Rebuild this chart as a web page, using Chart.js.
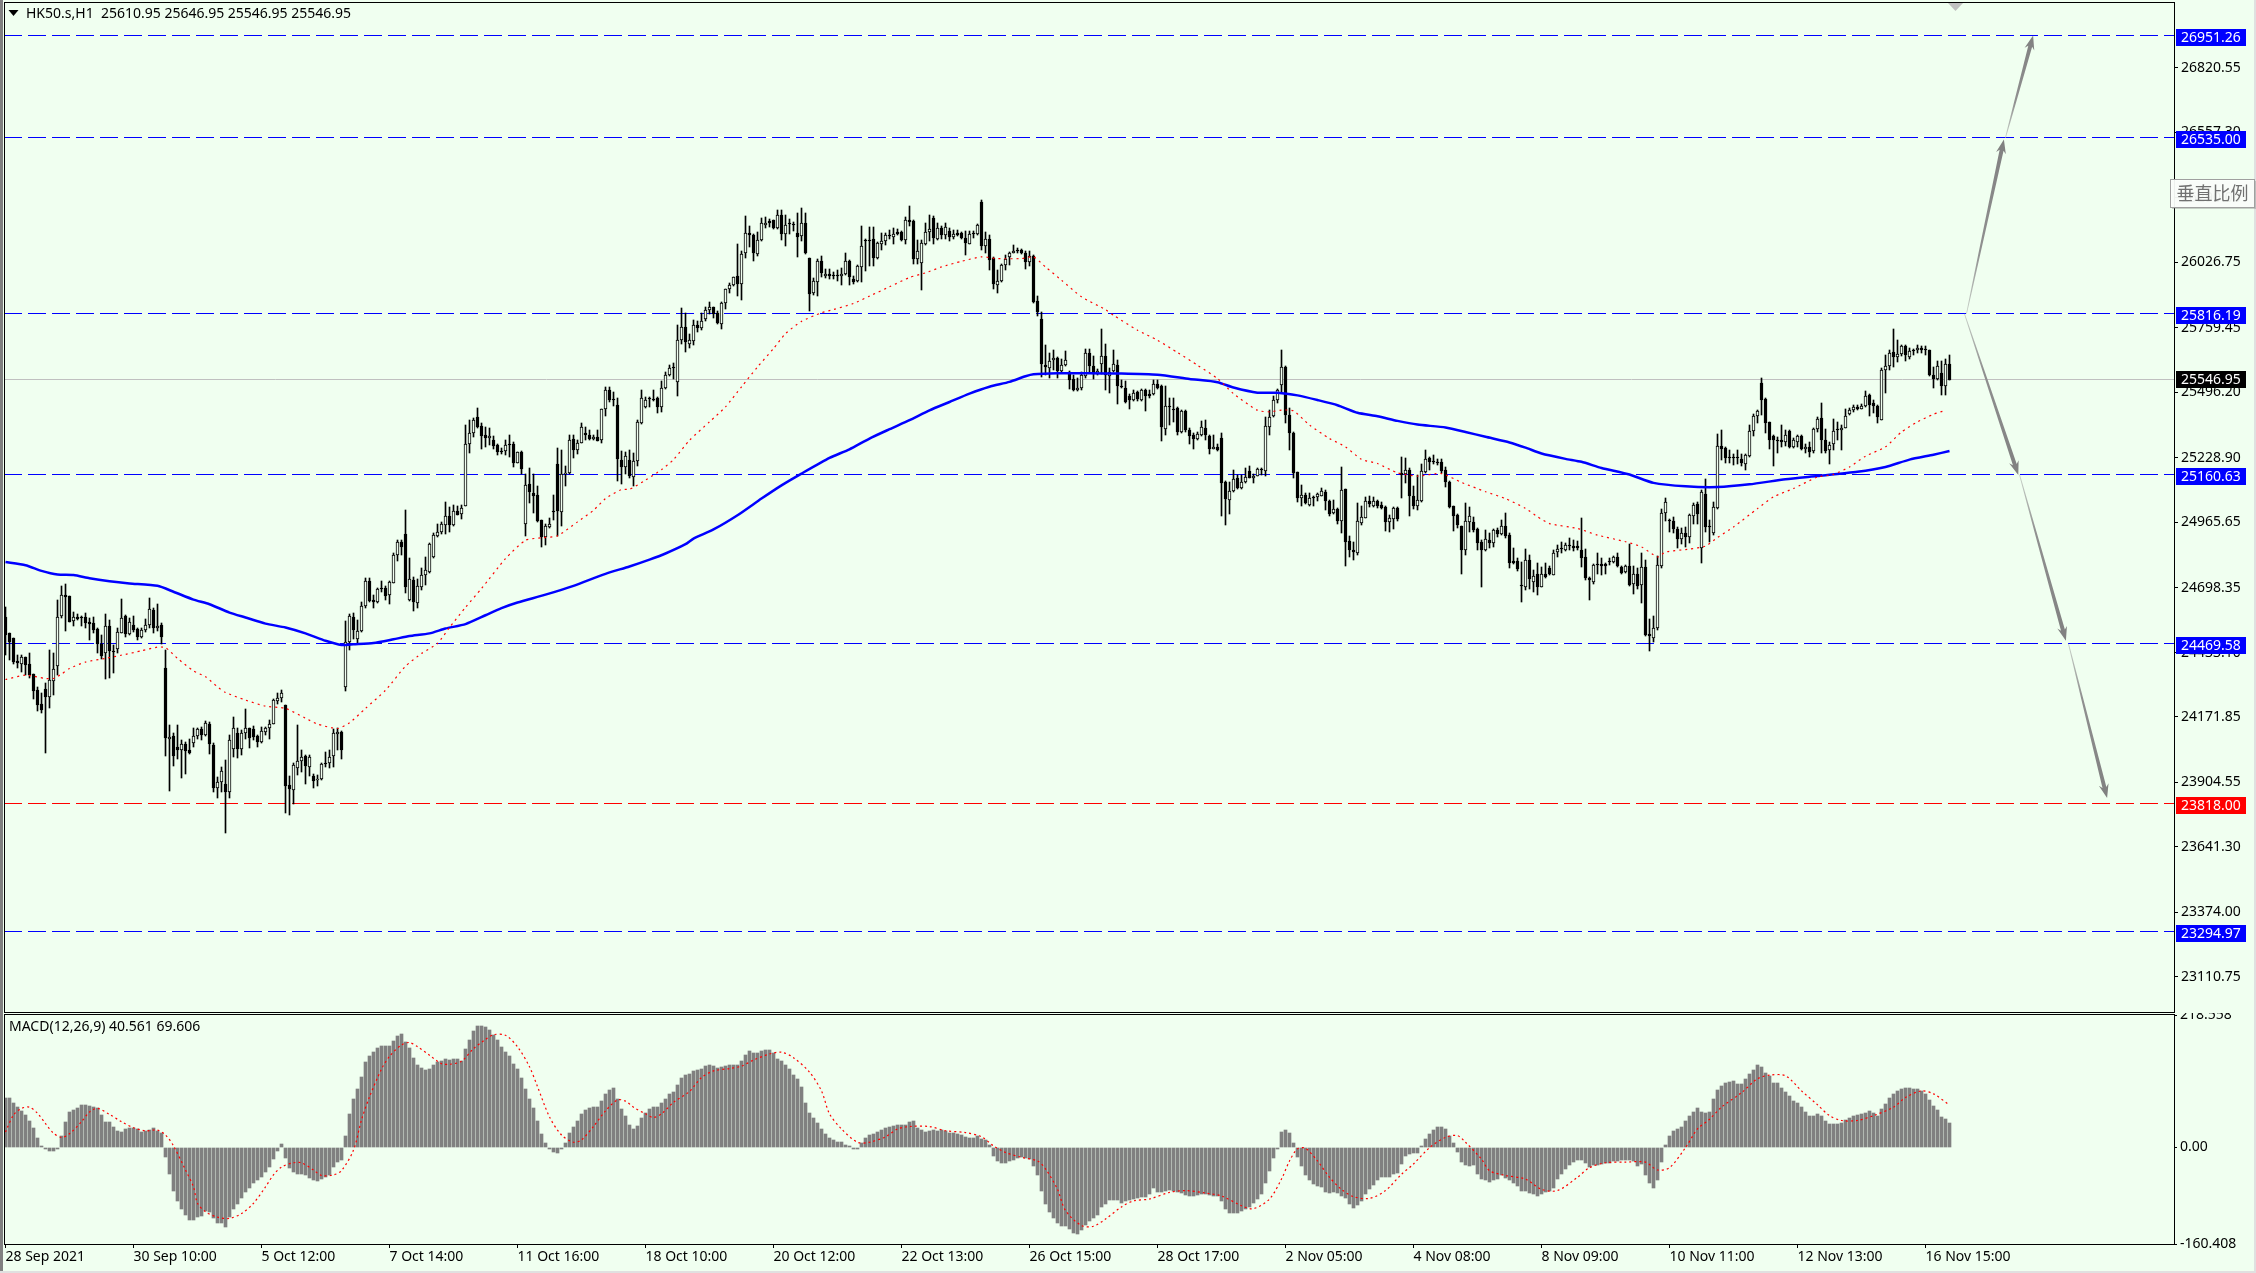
<!DOCTYPE html>
<html>
<head>
<meta charset="utf-8">
<title>HK50.s,H1</title>
<script src="https://cdn.jsdelivr.net/npm/chart.js@4/dist/chart.umd.min.js"></script>
<style>
html, body { margin: 0; padding: 0; width: 2256px; height: 1273px; overflow: hidden; background: #F0FFF0; }
canvas { position: absolute; left: 0; display: block; }
#priceChart { top: 0; }
#macdChart { top: 1013px; }
</style>
</head>
<body>
<canvas id="priceChart" width="2256" height="1013"></canvas>
<canvas id="macdChart" width="2256" height="260"></canvas>
<script>
const opens = [
24580,24512,24494,24399,24389,24414,24386,24346,24280,24222,
24284,24253,24318,24381,24582,24669,24664,24562,24577,24577,
24577,24557,24555,24531,24467,24430,24544,24440,24450,24514,
24582,24508,24548,24529,24498,24525,24548,24607,24532,24546,
24369,24083,24093,24049,24038,24060,24036,24066,24094,24120,
24099,24144,24056,23883,23906,23896,23866,24040,24104,24042,
24104,24124,24120,24093,24070,24108,24124,24144,24238,24249,
24219,23893,23875,23961,23992,24011,23968,23930,23913,23917,
23984,23985,24011,24100,24108,24294,24478,24577,24489,24522,
24624,24724,24650,24641,24699,24699,24668,24718,24831,24883,
24917,24648,24729,24637,24702,24752,24763,24822,24908,24925,
24953,24990,24953,25013,25001,25033,25286,25331,25395,25357,
25320,25310,25303,25280,25258,25256,25286,25286,25208,25254,
24960,25123,25086,25078,24974,24906,24945,25013,25205,25008,
25161,25168,25304,25259,25290,25331,25323,25305,25314,25301,
25429,25504,25466,25443,25221,25191,25218,25150,25216,25371,
25436,25468,25470,25471,25436,25514,25568,25596,25539,25708,
25760,25694,25705,25769,25756,25796,25833,25845,25821,25776,
25858,25917,25932,25969,25939,26062,26147,26139,26059,26115,
26179,26194,26198,26164,26217,26143,26182,26179,26147,26134,
26188,26045,25900,25946,26030,25970,25980,25972,25973,25970,
25977,26030,25957,25949,26007,26114,26115,26119,26043,26100,
26113,26134,26130,26149,26151,26116,26200,26194,26040,26024,
26102,26151,26207,26120,26166,26136,26154,26130,26146,26146,
26127,26102,26144,26140,26270,26093,26123,26045,25935,25950,
26014,26048,26064,26078,26075,26062,26028,26051,25867,25796,
25609,25595,25629,25637,25583,25606,25579,25548,25503,25512,
25562,25656,25603,25569,25610,25643,25562,25582,25609,25522,
25515,25480,25466,25496,25463,25504,25488,25488,25531,25523,
25346,25437,25425,25431,25334,25418,25341,25320,25305,25323,
25349,25319,25265,25273,25311,25129,25055,25093,25148,25106,
25130,25173,25146,25154,25184,25175,25355,25398,25466,25526,
25598,25405,25328,25170,25065,25075,25035,25069,25069,25073,
25087,25054,25004,25020,24971,25100,24888,24852,24841,24963,
24984,25054,25032,25054,25034,25027,24965,24979,25023,25167,
25162,25178,25072,25032,25054,25170,25227,25214,25213,25211,
25177,25129,25031,24994,24950,24852,24967,24966,24937,24886,
24852,24892,24879,24933,24917,24950,24913,24807,24808,24705,
24702,24811,24722,24754,24702,24756,24780,24752,24845,24856,
24852,24870,24868,24867,24852,24823,24736,24722,24792,24794,
24797,24806,24804,24822,24784,24763,24788,24712,24754,24709,
24781,24508,24494,24532,24788,25004,24970,24970,24937,24899,
24920,24905,24992,25039,24862,25082,24950,24922,25025,25278,
25270,25230,25228,25228,25225,25202,25237,25339,25399,25535,
25470,25373,25316,25300,25300,25294,25336,25273,25294,25316,
25263,25273,25255,25346,25392,25300,25259,25283,25341,25341,
25351,25409,25422,25437,25429,25439,25483,25453,25441,25384,
25588,25603,25660,25640,25652,25685,25640,25667,25667,25677,
25671,25667,25568,25549,25576,25521,25610.95];

const highs = [
24618,24512,24494,24423,24423,24416,24434,24348,24294,24267,
24308,24444,24430,24648,24705,24712,24664,24600,24593,24582,
24596,24573,24577,24536,24505,24593,24566,24464,24532,24654,
24589,24573,24582,24536,24536,24570,24658,24614,24631,24555,
24446,24140,24104,24138,24076,24070,24083,24128,24128,24131,
24154,24151,24063,23927,23965,23995,24097,24172,24124,24117,
24202,24128,24134,24097,24131,24131,24158,24246,24270,24280,
24219,23930,23984,24138,24036,24015,24015,23940,23934,23985,
24029,24036,24120,24128,24114,24562,24593,24596,24566,24641,
24740,24740,24668,24698,24725,24705,24725,24841,24892,24892,
25014,24818,24743,24732,24777,24822,24879,24920,24960,24967,
25050,25028,25035,25031,25035,25361,25382,25392,25433,25372,
25352,25348,25316,25284,25270,25300,25320,25293,25252,25256,
25161,25188,25161,25112,24974,24957,24984,25076,25270,25259,
25194,25323,25323,25300,25372,25352,25341,25323,25341,25429,
25518,25518,25497,25474,25255,25252,25259,25246,25382,25504,
25477,25477,25504,25477,25541,25579,25606,25616,25769,25840,
25821,25735,25790,25787,25820,25844,25864,25845,25828,25862,
25919,25943,25968,26100,26072,26214,26173,26143,26150,26208,
26211,26202,26200,26238,26241,26218,26202,26189,26229,26249,
26229,26045,25960,26038,26051,25998,26000,25987,25994,26004,
26062,26034,25969,26014,26173,26123,26170,26170,26109,26146,
26146,26157,26164,26161,26154,26211,26255,26198,26116,26116,
26188,26218,26215,26187,26173,26187,26164,26157,26157,26150,
26154,26154,26154,26184,26282,26150,26136,26048,25996,26018,
26055,26068,26096,26085,26079,26071,26071,26055,25888,25824,
25688,25654,25667,25640,25633,25663,25583,25565,25552,25579,
25674,25674,25644,25592,25752,25694,25596,25667,25629,25545,
25541,25490,25504,25500,25508,25508,25504,25545,25545,25524,
25520,25474,25474,25436,25422,25422,25348,25331,25334,25379,
25382,25320,25320,25286,25331,25134,25130,25178,25157,25160,
25188,25194,25161,25187,25188,25395,25423,25480,25511,25668,
25602,25430,25334,25171,25117,25085,25083,25072,25083,25107,
25096,25056,25058,25022,25190,25103,24909,24886,25045,25031,
25069,25072,25069,25056,25049,25031,24994,25026,25028,25232,
25228,25185,25113,25158,25205,25260,25232,25239,25222,25222,
25192,25133,25031,24998,24951,25045,25028,24988,24940,24892,
24933,24920,24936,24944,24974,25005,24920,24860,24818,24804,
24858,24831,24770,24800,24784,24800,24786,24852,24872,24886,
24882,24903,24892,24890,24981,24858,24743,24797,24841,24818,
24800,24818,24827,24838,24788,24790,24876,24786,24777,24838,
24811,24569,24582,24827,25018,25064,24977,24985,24947,24940,
24947,25001,25042,25049,25096,25143,24973,25048,25327,25341,
25273,25259,25245,25259,25243,25243,25361,25409,25425,25555,
25474,25375,25320,25313,25364,25341,25341,25309,25323,25320,
25286,25293,25350,25395,25453,25345,25293,25388,25375,25361,
25429,25432,25443,25443,25447,25500,25490,25463,25445,25595,
25647,25667,25755,25711,25690,25690,25677,25674,25690,25683,
25683,25670,25599,25622,25622,25633,25646.95];

const lows = [
24423,24403,24389,24369,24355,24342,24328,24246,24196,24188,
24025,24208,24260,24342,24573,24522,24559,24541,24566,24541,
24536,24487,24512,24433,24406,24324,24331,24351,24433,24512,
24498,24505,24518,24487,24495,24518,24532,24512,24521,24468,
24012,23870,23970,23998,23923,23938,24022,24049,24083,24079,
24093,24022,23866,23841,23866,23698,23841,24008,24004,24015,
24083,24045,24076,24049,24066,24097,24083,24142,24223,24233,
23780,23770,23818,23934,23947,23897,23930,23882,23889,23913,
23965,23961,23965,24038,23999,24278,24446,24491,24471,24518,
24616,24641,24616,24637,24682,24648,24631,24716,24808,24831,
24678,24645,24604,24616,24691,24709,24759,24818,24906,24919,
24919,24926,24949,24994,24978,25031,25248,25314,25348,25263,
25273,25280,25266,25239,25243,25239,25232,25191,25208,25164,
24908,25042,25004,24967,24865,24872,24942,24974,24910,24949,
25112,25164,25228,25243,25289,25303,25300,25300,25297,25289,
25398,25456,25439,25134,25120,25161,25144,25112,25194,25368,
25433,25436,25460,25412,25416,25508,25562,25548,25480,25694,
25660,25678,25688,25742,25749,25787,25814,25800,25776,25753,
25837,25901,25930,25888,25871,26044,26089,26032,26052,26112,
26166,26170,26161,26160,26116,26093,26143,26154,26048,26113,
26059,25828,25892,25888,25964,25960,25956,25956,25950,25932,
25976,25932,25939,25946,25946,25990,26010,26010,26038,26078,
26098,26120,26102,26139,26113,26102,26174,26018,26018,25912,
26098,26112,26102,26116,26119,26123,26113,26123,26134,26119,
26055,26100,26126,26139,26075,26062,25994,25916,25901,25946,
25994,26014,26062,26062,26059,25998,26010,25858,25807,25558,
25568,25554,25588,25552,25575,25603,25508,25500,25501,25507,
25552,25575,25549,25565,25572,25504,25493,25579,25446,25514,
25452,25428,25460,25460,25459,25420,25474,25485,25508,25297,
25320,25361,25375,25320,25330,25334,25286,25263,25300,25318,
25300,25243,25263,25255,24991,24956,24998,25089,25100,25103,
25127,25145,25126,25153,25157,25154,25321,25396,25450,25494,
25371,25260,25147,25049,25032,25039,25032,25031,25052,25072,
25015,24992,25001,24958,24920,24786,24824,24811,24831,24954,
24981,25026,25028,25022,25020,24929,24925,24936,24970,25065,
25124,24992,25019,25015,25049,25167,25178,25205,25201,25167,
25110,25022,24930,24944,24754,24831,24926,24926,24854,24702,
24849,24862,24865,24906,24913,24903,24777,24797,24767,24641,
24688,24695,24682,24668,24702,24739,24750,24750,24824,24838,
24849,24852,24849,24852,24784,24729,24650,24713,24754,24750,
24754,24790,24800,24781,24756,24759,24706,24672,24695,24634,
24501,24441,24478,24525,24777,24970,24926,24920,24862,24876,
24865,24882,24960,24958,24800,24926,24885,24912,25021,25221,
25207,25207,25198,25205,25195,25177,25232,25317,25371,25402,
25330,25263,25195,25248,25273,25277,25270,25269,25273,25259,
25248,25232,25248,25334,25248,25248,25202,25259,25300,25259,
25349,25402,25415,25422,25426,25436,25398,25413,25371,25381,
25493,25585,25599,25619,25643,25623,25632,25647,25656,25656,
25649,25564,25515,25545,25483,25483,25545];

const closes = [
24505,24478,24396,24392,24416,24382,24342,24278,24219,24199,
24253,24321,24365,24580,24667,24661,24559,24577,24571,24573,
24555,24552,24525,24467,24419,24543,24441,24437,24516,24576,
24508,24559,24525,24498,24525,24548,24610,24532,24543,24498,
24086,24090,24012,24036,24060,24033,24025,24094,24121,24097,
24147,24059,23882,23906,23951,23866,24079,24124,24042,24104,
24124,24086,24090,24070,24113,24124,24144,24242,24250,24267,
23890,23879,23977,23992,24006,23972,24006,23911,23920,23981,
23978,24008,24104,24108,24038,24478,24582,24525,24522,24624,
24724,24644,24641,24695,24694,24664,24721,24831,24883,24865,
24702,24732,24641,24705,24752,24770,24875,24913,24926,24957,
24990,24953,25013,24997,25025,25286,25331,25382,25354,25318,
25310,25319,25276,25252,25252,25282,25281,25208,25250,25184,
25119,25089,25073,24971,24906,24952,24960,25008,25012,25164,
25168,25303,25259,25289,25352,25323,25304,25314,25297,25426,
25504,25463,25463,25225,25191,25237,25153,25216,25373,25474,
25466,25467,25463,25436,25515,25568,25596,25595,25708,25760,
25701,25708,25769,25758,25786,25833,25845,25817,25779,25858,
25915,25935,25968,25939,26059,26147,26138,26062,26115,26188,
26188,26185,26164,26217,26140,26180,26181,26178,26130,26188,
26064,25898,25949,26030,25983,25980,25969,25971,25972,25980,
26030,25964,25946,26010,26094,26113,26112,26044,26105,26113,
26136,26133,26143,26143,26116,26200,26191,26040,26074,26105,
26151,26160,26126,26166,26138,26168,26130,26143,26139,26126,
26105,26140,26143,26179,26092,26123,26037,25936,25951,26013,
26038,26062,26072,26072,26064,26028,26051,25863,25824,25613,
25599,25624,25637,25582,25605,25629,25545,25507,25515,25565,
25654,25603,25572,25581,25644,25565,25579,25610,25522,25516,
25458,25463,25493,25467,25504,25481,25481,25531,25512,25352,
25439,25436,25424,25334,25418,25341,25318,25305,25327,25352,
25320,25265,25273,25259,25126,25062,25092,25140,25107,25131,
25150,25148,25156,25184,25178,25357,25396,25466,25504,25597,
25405,25330,25167,25065,25075,25045,25066,25066,25079,25092,
25052,25001,25018,24970,25095,24886,24852,24845,24969,24988,
25054,25038,25054,25032,25024,24967,24981,25023,24978,25160,
25178,25073,25032,25058,25173,25222,25212,25213,25207,25174,
25130,25027,24990,24954,24852,24970,24989,24933,24882,24852,
24899,24882,24932,24917,24952,24909,24800,24801,24774,24704,
24811,24732,24748,24702,24756,24743,24754,24842,24856,24855,
24871,24869,24862,24861,24820,24736,24728,24793,24791,24788,
24788,24805,24822,24785,24760,24785,24709,24756,24706,24781,
24505,24501,24532,24789,25005,25050,24969,24937,24899,24920,
24905,24993,25035,24998,25087,24946,24946,25028,25278,25266,
25228,25229,25227,25227,25207,25240,25339,25399,25419,25463,
25371,25300,25300,25296,25293,25323,25273,25300,25316,25263,
25273,25254,25347,25388,25300,25258,25282,25338,25340,25351,
25400,25425,25437,25426,25441,25481,25443,25440,25395,25588,
25604,25656,25640,25653,25683,25647,25666,25666,25678,25667,
25670,25566,25549,25602,25521,25613,25546.95];

const redMaBars = [0,5,10,12,14,16,20,25,29,34,38,40,43,47,50,53,55,60,65,70,75,78,83,86,90,95,100,104,108,111,115,119,125,130,134,138,143,147,150,154,156,160,164,167,171,176,180,184,188,192,195,199,204,207,212,216,221,226,230,234,239,244,248,254,257,260,264,269,275,277,283,288,293,298,303,307,313,316,319,322,326,331,335,339,343,348,353,359,364,370,375,380,383,386,393,398,405,409,413,415,421,425,428,432,438,442,447,453,457,461,465,470,474,478,482,485];
const redMaValues = [24324,24342,24328,24328,24346,24369,24395,24410,24423,24441,24456,24454,24410,24359,24335,24294,24271,24240,24215,24206,24166,24142,24124,24147,24206,24280,24378,24430,24471,24536,24618,24695,24817,24892,24902,24910,24967,25014,25062,25099,25100,25137,25180,25221,25300,25375,25436,25518,25599,25674,25735,25785,25820,25833,25858,25888,25926,25964,25983,26007,26030,26048,26041,26041,26048,26007,25953,25885,25833,25810,25749,25708,25658,25606,25552,25490,25422,25416,25423,25420,25362,25307,25273,25222,25205,25167,25154,25164,25128,25090,25062,25022,24988,24960,24940,24913,24886,24865,24824,24844,24856,24868,24903,24946,25021,25069,25103,25150,25161,25191,25235,25273,25334,25375,25406,25422];
const blueMaBars = [0,5,9,13,17,21,26,31,38,42,47,51,56,60,65,70,75,80,84,87,92,97,101,106,110,115,120,124,128,135,142,150,156,161,165,170,172,177,183,189,194,199,206,211,216,221,226,231,236,241,246,251,255,257,263,271,279,288,296,303,307,313,318,323,328,333,338,343,348,353,360,365,370,376,380,384,390,394,399,406,412,420,428,436,445,453,463,470,476,482,486];
const blueMaValues = [24803,24790,24767,24752,24750,24737,24725,24716,24706,24682,24650,24631,24597,24577,24552,24536,24512,24482,24465,24468,24473,24488,24501,24512,24532,24550,24586,24615,24638,24670,24706,24755,24785,24813,24838,24876,24899,24936,24994,25062,25116,25164,25228,25263,25307,25345,25382,25422,25456,25490,25518,25538,25561,25569,25573,25573,25572,25567,25550,25537,25515,25494,25494,25483,25464,25443,25412,25398,25379,25364,25352,25334,25314,25291,25270,25246,25224,25212,25187,25160,25126,25112,25109,25120,25141,25154,25171,25191,25221,25241,25256];

const macdValues = [
81,81,73,66,60,53,43,31,15,2,
-1,-6,-6,-1,19,41,58,62,65,70,
70,68,67,65,53,41,41,33,26,25,
30,31,32,30,25,26,29,31,26,24,
-16,-45,-72,-90,-103,-113,-121,-121,-116,-114,
-106,-107,-118,-125,-126,-132,-116,-102,-94,-85,
-74,-67,-59,-55,-49,-41,-33,-19,-7,5,
-18,-35,-42,-45,-45,-46,-52,-55,-56,-53,
-49,-46,-33,-24,-22,18,55,79,96,116,
141,151,157,164,167,167,167,175,184,187,
174,164,147,136,131,127,130,136,140,143,
145,144,146,145,142,162,178,192,200,200,
198,194,185,177,166,157,150,137,129,114,
96,79,64,43,21,7,-2,-8,-10,-1,
7,24,34,43,55,61,64,66,66,76,
88,94,98,79,63,52,36,30,35,48,
56,63,66,66,73,79,88,91,103,115,
119,121,126,127,129,134,136,134,131,132,
134,136,136,136,143,152,159,156,156,159,
161,161,156,146,142,136,129,120,113,99,
73,56,48,40,30,22,15,12,8,9,
4,1,-2,-1,7,15,20,22,25,28,
31,33,35,36,36,36,41,43,31,28,
25,27,28,27,28,26,24,23,22,20,
17,15,15,18,13,12,3,-14,-23,-26,
-26,-23,-21,-18,-17,-18,-20,-31,-46,-73,
-94,-108,-118,-126,-130,-131,-136,-142,-144,-138,
-129,-123,-118,-113,-100,-94,-88,-88,-88,-92,
-89,-88,-86,-84,-83,-82,-78,-67,-74,-75,
-72,-71,-72,-75,-76,-79,-81,-81,-79,-78,
-78,-79,-81,-81,-90,-103,-109,-109,-109,-106,
-102,-99,-93,-86,-78,-60,-39,-18,-1,25,
28,23,7,-17,-31,-46,-55,-61,-64,-66,
-74,-76,-75,-76,-81,-84,-94,-101,-96,-89,
-78,-70,-62,-54,-50,-49,-50,-45,-43,-28,
-14,-11,-10,-10,1,13,22,28,33,33,
30,18,7,-8,-25,-30,-32,-29,-44,-53,
-55,-57,-54,-53,-47,-51,-54,-60,-65,-73,
-73,-76,-78,-81,-77,-75,-72,-68,-53,-45,
-36,-30,-24,-22,-22,-26,-33,-30,-29,-28,
-26,-26,-23,-23,-22,-22,-22,-23,-31,-28,
-46,-60,-68,-55,-25,3,18,26,30,34,
43,51,58,64,58,56,58,79,94,101,
106,108,109,105,105,113,121,127,136,132,
122,117,106,106,98,91,84,76,73,66,
58,51,51,55,51,43,38,38,38,40,
45,48,51,53,55,57,59,56,52,63,
71,81,88,92,96,98,98,96,96,93,
88,78,68,61,49,47,40.561];

const signalBars = [0,2,4,6,8,10,12,14,16,19,21,23,26,29,32,35,38,40,42,45,47,48,50,53,56,59,62,65,67,69,72,74,77,79,82,84,87,89,91,94,96,99,101,103,106,109,111,114,117,120,122,125,128,131,133,136,139,142,144,147,150,153,155,157,160,162,164,167,171,174,177,181,184,187,191,194,197,201,204,206,209,213,216,220,223,226,231,235,240,244,247,250,254,258,260,263,265,269,272,275,279,282,286,291,295,300,304,309,312,316,319,321,323,325,328,331,334,337,341,345,349,352,356,360,363,365,369,371,375,380,384,388,393,396,400,405,410,413,416,420,423,426,429,434,438,441,445,449,453,456,459,463,467,472,475,479,482,486];
const signalValues = [25,53,64,66,56,39,23,16,22,42,58,64,54,42,32,27,28,20,2,-38,-66,-93,-107,-116,-118,-110,-93,-66,-46,-33,-26,-26,-38,-47,-46,-39,-5,45,83,129,150,169,173,166,152,138,137,142,163,178,186,185,166,133,100,50,20,8,12,34,60,78,76,66,55,49,55,74,92,115,126,130,134,144,154,157,148,124,93,55,30,8,8,17,30,34,34,27,24,17,2,-9,-17,-23,-36,-70,-105,-130,-131,-119,-99,-89,-86,-75,-72,-76,-81,-97,-102,-86,-53,-23,-3,-2,-23,-50,-70,-82,-85,-72,-45,-28,-1,16,19,8,-20,-39,-47,-53,-70,-72,-50,-34,-26,-25,-25,-38,-34,-1,30,46,66,90,113,119,118,93,70,52,44,44,52,66,82,93,88,69.606];

const blueLevels = [26951.26, 26535.00, 25816.19, 25160.63, 24469.58, 23294.97];
const redLevels = [23818.00];
const lastPrice = 25546.95;

const priceTicks = [26820.55,26557.30,26290.00,26026.75,25759.45,25496.20,25228.90,24965.65,24698.35,24433.10,24171.85,23904.55,23641.30,23374.00,23110.75];
const macdTicks = [-160.408, 0, 218.558];
const macdTickLabels = ['-160.408', '0.00', '218.558'];

const timeTickBars = [0,32,64,96,128,160,192,224,256,288,320,352,384,416,448,480];
const timeLabels = ['28 Sep 2021','30 Sep 10:00','5 Oct 12:00','7 Oct 14:00','11 Oct 16:00','18 Oct 10:00','20 Oct 12:00','22 Oct 13:00','26 Oct 15:00','28 Oct 17:00','2 Nov 05:00','4 Nov 08:00','8 Nov 09:00','10 Nov 11:00','12 Nov 13:00','16 Nov 15:00'];

// hand drawn arrows on the chart, bar and price of both ends
const arrowFromBar = [490.25, 500, 489.75, 503.5, 515.75];
const arrowFromPrice = [25816, 26535, 25816, 25160, 24469];
const arrowToBar = [499.6, 506.9, 503.2, 515.1, 525.4];
const arrowToPrice = [26527, 26951, 25158, 24482, 23840];

const BG = '#F0FFF0';
const FONT = '14px "Noto Sans"';
const X_MIN = -0.375, X_MAX = 542.125;

Chart.defaults.font.family = '"Noto Sans"';
Chart.defaults.font.size = 14;
Chart.defaults.color = '#000';

const toPoints = (bars, values) => bars.map((b, i) => ({ x: b, y: values[i] }));
const levelLine = (price, color, dash, order) => ({
    type: 'line',
    data: [{ x: X_MIN, y: price }, { x: X_MAX, y: price }],
    borderColor: color,
    borderWidth: 1,
    borderDash: dash,
    pointRadius: 0,
    order: order
});

// the terminal draws on whole pixels, so snap the elements the scales have placed
const pixelSnap = {
    id: 'pixelSnap',
    afterDatasetsUpdate(chart) {
        chart.data.datasets.forEach((ds, i) => {
            const meta = chart.getDatasetMeta(i);
            if (meta.type === 'bar') {
                meta.data.forEach(el => {
                    el.y = Math.round(el.y);
                    el.base = Math.round(el.base);
                    if (el.y === el.base) el.base = el.y + 1;
                });
            } else if (ds.data.length === 2) {
                meta.data.forEach(el => { el.y = Math.floor(el.y) + 0.5; });
            }
        });
    }
};

const noAxisPadding = s => {
    s.paddingTop = 0;
    s.paddingBottom = 0;
    s.paddingLeft = 0;
    s.paddingRight = 0;
};

const drawLabelBox = (ctx, chart, price, fill, up) => {
    const y = chart.scales.y.getPixelForValue(price);
    ctx.fillStyle = fill;
    ctx.fillRect(2176, Math.floor(y) - up, 70, 17);
    ctx.fillStyle = '#fff';
    ctx.textAlign = 'left';
    ctx.textBaseline = 'middle';
    ctx.fillText(price.toFixed(2), 2181, Math.floor(y) - up + 9);
};

const drawArrow = (ctx, x0, y0, x1, y1) => {
    const len = Math.hypot(x1 - x0, y1 - y0);
    const ux = (x1 - x0) / len, uy = (y1 - y0) / len;
    const nx = -uy, ny = ux;
    const baseX = x1 - ux * 11, baseY = y1 - uy * 11;
    const grad = ctx.createLinearGradient(x0, y0, x1, y1);
    grad.addColorStop(0, '#c8d0c8');
    grad.addColorStop(0.35, '#909090');
    grad.addColorStop(1, '#808080');
    ctx.fillStyle = grad;
    ctx.beginPath();
    ctx.moveTo(x0 + nx * 0.4, y0 + ny * 0.4);
    ctx.lineTo(baseX + nx * 2, baseY + ny * 2);
    ctx.lineTo(x1 - ux * 14 + nx * 5, y1 - uy * 14 + ny * 5);
    ctx.lineTo(x1, y1);
    ctx.lineTo(x1 - ux * 14 - nx * 5, y1 - uy * 14 - ny * 5);
    ctx.lineTo(baseX - nx * 2, baseY - ny * 2);
    ctx.lineTo(x0 - nx * 0.4, y0 - ny * 0.4);
    ctx.closePath();
    ctx.fill();
};

const priceOverlay = {
    id: 'priceOverlay',
    afterDraw(chart) {
        const ctx = chart.ctx;
        const { x, y } = chart.scales;
        ctx.save();

        arrowToBar.forEach((b, i) => {
            drawArrow(ctx, x.getPixelForValue(arrowFromBar[i]), y.getPixelForValue(arrowFromPrice[i]),
                x.getPixelForValue(b), y.getPixelForValue(arrowToPrice[i]));
        });

        // window edge and plot frame
        ctx.fillStyle = '#808080';
        ctx.fillRect(0, 0, 3, 1013);
        ctx.fillStyle = '#e0e0e0';
        ctx.fillRect(2254, 0, 2, 1013);
        ctx.strokeStyle = '#000';
        ctx.lineWidth = 1;
        ctx.strokeRect(4.5, 2.5, 2170, 1010);

        // chart shift marker
        ctx.fillStyle = '#c0c0c0';
        ctx.beginPath();
        ctx.moveTo(1948, 3); ctx.lineTo(1963, 3); ctx.lineTo(1955.5, 11);
        ctx.fill();

        // symbol line
        ctx.fillStyle = '#000';
        ctx.beginPath();
        ctx.moveTo(8.5, 10); ctx.lineTo(18.5, 10); ctx.lineTo(13.5, 16);
        ctx.fill();
        ctx.font = FONT;
        ctx.textAlign = 'left';
        ctx.textBaseline = 'middle';
        ctx.fillText('HK50.s,H1  25610.95 25646.95 25546.95 25546.95', 26, 14);

        // right side price labels
        drawLabelBox(ctx, chart, lastPrice, '#000', 8);
        blueLevels.forEach(p => drawLabelBox(ctx, chart, p, '#0000FF', 6));
        redLevels.forEach(p => drawLabelBox(ctx, chart, p, '#FF0000', 6));

        // scale button
        ctx.fillStyle = 'rgba(120,120,120,0.35)';
        ctx.fillRect(2172, 181, 84, 28);
        ctx.fillStyle = 'rgba(252,255,252,0.93)';
        ctx.fillRect(2170.5, 179.5, 84, 28);
        ctx.strokeStyle = '#a0a0a0';
        ctx.strokeRect(2170.5, 179.5, 84, 28);
        ctx.fillStyle = '#707070';
        ctx.font = '18px "Noto Sans CJK SC"';
        ctx.textAlign = 'center';
        ctx.fillText('垂直比例', 2212.5, 193);
        ctx.restore();
    }
};

const macdOverlay = {
    id: 'macdOverlay',
    afterDraw(chart) {
        const ctx = chart.ctx;
        ctx.save();
        ctx.fillStyle = '#808080';
        ctx.fillRect(0, 0, 3, 260);
        ctx.strokeStyle = '#000';
        ctx.lineWidth = 1;
        ctx.strokeRect(4.5, 1.5, 2170, 230);
        ctx.fillStyle = '#e0e0e0';
        ctx.fillRect(2254, 0, 2, 260);
        ctx.fillRect(0, 258, 2256, 2);
        ctx.fillStyle = '#000';
        ctx.font = FONT;
        ctx.textAlign = 'left';
        ctx.textBaseline = 'middle';
        ctx.fillText('MACD(12,26,9) 40.561 69.606', 9, 14);
        ctx.restore();
    }
};

const barIndex = opens.map((_, i) => i);

new Chart(document.getElementById('priceChart'), {
    type: 'bar',
    data: {
        datasets: [
            ...blueLevels.map(p => levelLine(p, '#0000FF', [18, 6], 6)),
            ...redLevels.map(p => levelLine(p, '#FF0000', [18, 6], 6)),
            levelLine(lastPrice, '#C0C0C0', [], 7),
            {
                // wicks
                data: barIndex.map(i => ({ x: i, y: [lows[i], highs[i]] })),
                backgroundColor: '#000',
                grouped: false,
                barPercentage: 1,
                categoryPercentage: 1,
                maxBarThickness: 1,
                order: 5
            },
            {
                // bodies
                data: barIndex.map(i => ({ x: i, y: [opens[i], closes[i]] })),
                backgroundColor: barIndex.map(i => closes[i] >= opens[i] ? BG : '#000'),
                borderColor: '#000',
                borderWidth: 1,
                borderSkipped: false,
                minBarLength: 1,
                grouped: false,
                barPercentage: 1,
                categoryPercentage: 1,
                maxBarThickness: 3,
                order: 4
            },
            {
                type: 'line',
                data: toPoints(blueMaBars, blueMaValues),
                borderColor: '#0000FF',
                borderWidth: 2.5,
                pointRadius: 0,
                tension: 0.2,
                order: 2
            },
            {
                type: 'line',
                data: toPoints(redMaBars, redMaValues),
                borderColor: '#FF0000',
                borderWidth: 1.2,
                borderDash: [2, 4],
                pointRadius: 0,
                tension: 0.2,
                order: 1
            }
        ]
    },
    options: {
        responsive: false,
        devicePixelRatio: 1,
        animation: false,
        events: [],
        layout: { padding: { left: 4, top: 2, bottom: 1, right: 0 } },
        plugins: { legend: { display: false }, tooltip: { enabled: false } },
        scales: {
            x: { type: 'linear', display: false, offset: false, min: X_MIN, max: X_MAX, grid: { offset: false } },
            y: {
                type: 'linear',
                position: 'right',
                min: 22967.4,
                max: 27087.9,
                afterFit: s => { s.width = 82; noAxisPadding(s); },
                afterBuildTicks: s => { s.ticks = priceTicks.map(v => ({ value: v })); },
                border: { display: false },
                grid: { drawOnChartArea: false, drawTicks: true, tickLength: 4, color: '#000' },
                ticks: { padding: 3, color: '#000', callback: v => v.toFixed(2) }
            }
        }
    },
    plugins: [pixelSnap, priceOverlay]
});

new Chart(document.getElementById('macdChart'), {
    type: 'bar',
    data: {
        datasets: [
            {
                data: barIndex.map(i => ({ x: i, y: macdValues[i] })),
                backgroundColor: '#808080',
                grouped: false,
                barPercentage: 1,
                categoryPercentage: 1,
                maxBarThickness: 3,
                order: 2
            },
            {
                type: 'line',
                data: toPoints(signalBars, signalValues),
                borderColor: '#FF0000',
                borderWidth: 1.2,
                borderDash: [2, 3],
                pointRadius: 0,
                tension: 0.3,
                order: 1
            }
        ]
    },
    options: {
        responsive: false,
        devicePixelRatio: 1,
        animation: false,
        events: [],
        layout: { padding: { left: 4, top: 2, bottom: 0, right: 0 } },
        plugins: { legend: { display: false }, tooltip: { enabled: false } },
        scales: {
            x: {
                type: 'linear',
                offset: false,
                min: X_MIN,
                max: X_MAX,
                afterFit: s => { s.height = 29; noAxisPadding(s); },
                afterBuildTicks: s => { s.ticks = timeTickBars.map(v => ({ value: v })); },
                border: { display: false },
                grid: { offset: false, drawOnChartArea: false, drawTicks: true, tickLength: 4, color: '#000' },
                ticks: {
                    autoSkip: false,
                    maxRotation: 0,
                    minRotation: 0,
                    align: 'start',
                    padding: 1,
                    color: '#000',
                    callback: (v, i) => timeLabels[i]
                }
            },
            y: {
                type: 'linear',
                position: 'right',
                min: -160.408,
                max: 218.558,
                afterFit: s => { s.width = 82; noAxisPadding(s); },
                afterBuildTicks: s => { s.ticks = macdTicks.map(v => ({ value: v })); },
                border: { display: false },
                grid: { drawOnChartArea: false, drawTicks: true, tickLength: 3, color: '#000' },
                ticks: { padding: 3, color: '#000', align: 'inner', callback: (v, i) => macdTickLabels[i] }
            }
        }
    },
    plugins: [pixelSnap, macdOverlay]
});
</script>
</body>
</html>
